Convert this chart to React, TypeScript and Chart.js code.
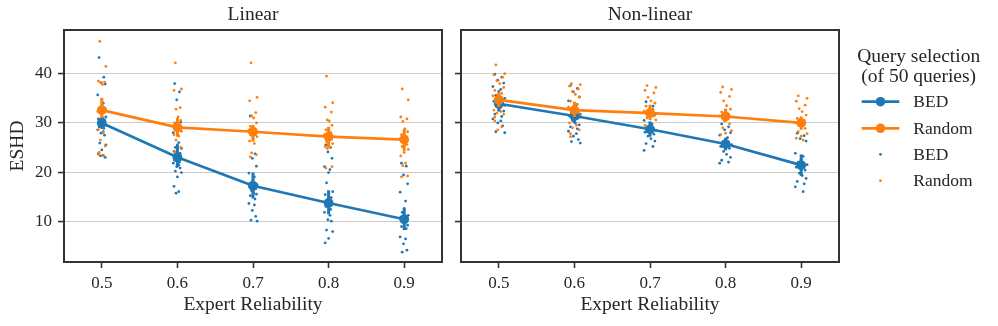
import React, { useEffect, useRef } from 'react';
import { Chart, registerables } from 'chart.js';
Chart.register(...registerables);

// ---------- data ----------
const categories = ['0.5', '0.6', '0.7', '0.8', '0.9'];
const yTicks = [10, 20, 30, 40];

// Linear panel: means and 95% CI bounds
const linBedMean = [30.0, 23.0, 17.2, 13.7, 10.4];
const linBedLow = [28.8, 21.0, 14.6, 11.4, 8.2];
const linBedHigh = [31.2, 25.5, 19.9, 16.3, 12.7];
const linRndMean = [32.6, 29.1, 28.2, 27.2, 26.6];
const linRndLow = [31.0, 27.2, 26.2, 25.0, 24.3];
const linRndHigh = [35.1, 31.0, 29.6, 29.2, 28.7];

// Non-linear panel: means and 95% CI bounds
const nlBedMean = [33.9, 31.4, 28.7, 25.7, 21.4];
const nlBedLow = [32.3, 29.9, 27.2, 24.4, 19.2];
const nlBedHigh = [35.0, 32.6, 30.3, 27.0, 23.6];
const nlRndMean = [34.7, 32.6, 32.0, 31.3, 30.0];
const nlRndLow = [33.2, 31.2, 30.6, 30.3, 28.6];
const nlRndHigh = [36.4, 34.3, 33.7, 32.9, 31.3];

// individual runs (strip points), one list per expert reliability
const linBedPts = [
  [43.3, 39.3, 38.2, 37.9, 35.7, 34.0, 33.2, 33.0, 31.2, 30.8, 30.6, 30.2, 29.9, 29.5, 29.2, 28.9, 28.6, 28.2, 27.9, 27.5, 25.9, 25.5, 24.5, 23.7, 23.4, 23.3, 23.0],
  [38.0, 36.3, 34.7, 30.2, 28.0, 26.0, 25.5, 25.0, 24.8, 24.2, 23.8, 23.3, 23.0, 22.6, 22.4, 22.0, 21.8, 21.4, 21.1, 20.8, 20.2, 19.9, 19.0, 17.1, 16.0, 15.7],
  [31.4, 23.7, 22.8, 21.2, 19.8, 19.0, 18.3, 17.8, 17.4, 17.0, 16.6, 16.2, 15.8, 15.5, 15.2, 14.5, 13.6, 13.3, 12.2, 11.0, 10.2, 10.0],
  [25.5, 25.0, 24.1, 22.8, 21.1, 20.5, 19.9, 17.8, 16.0, 15.4, 14.8, 14.2, 13.8, 13.4, 13.0, 12.4, 11.8, 11.2, 10.3, 10.0, 8.2, 7.9, 6.5, 5.6],
  [21.8, 21.2, 19.4, 17.6, 15.9, 14.1, 12.6, 11.8, 11.2, 10.8, 10.4, 10.0, 9.6, 9.2, 8.9, 8.5, 6.8, 6.4, 5.4, 4.1, 3.7],
];
const linRndPts = [
  [46.6, 41.5, 38.5, 38.3, 38.2, 37.8, 33.0, 32.8, 32.5, 32.3, 31.0, 30.8, 30.0, 29.9, 29.5, 29.0, 28.6, 28.0, 26.5, 25.3, 24.0, 23.5, 23.3],
  [42.2, 36.9, 36.6, 33.1, 32.8, 31.2, 30.5, 30.0, 29.6, 29.4, 29.1, 29.0, 28.8, 28.6, 28.3, 27.9, 27.6, 27.3, 26.5, 25.0, 24.1, 23.5],
  [42.2, 35.2, 34.5, 32.1, 31.4, 31.0, 30.0, 29.3, 28.8, 28.5, 28.2, 28.0, 27.8, 27.5, 27.2, 26.8, 26.3, 25.8, 23.9, 23.5, 23.1],
  [39.5, 34.1, 33.2, 32.2, 30.6, 30.4, 29.5, 28.6, 28.0, 27.6, 27.2, 26.9, 26.6, 26.2, 25.8, 25.5, 25.2, 25.0, 24.8, 21.1, 20.8],
  [36.9, 34.7, 31.2, 30.8, 30.3, 28.8, 28.2, 27.6, 27.2, 26.8, 26.4, 26.0, 25.6, 25.2, 24.6, 24.0, 23.3, 21.8, 21.3, 19.2, 19.0],
];
const nlBedPts = [
  [39.9, 39.3, 38.7, 38.1, 37.4, 36.8, 36.4, 35.6, 35.0, 34.4, 33.9, 33.5, 33.0, 32.4, 31.8, 31.3, 30.8, 30.4, 30.0, 29.4, 28.2, 28.0],
  [37.6, 37.0, 36.3, 35.3, 34.5, 33.7, 33.0, 32.2, 31.8, 31.4, 31.0, 30.5, 30.0, 29.6, 29.2, 28.8, 28.3, 27.8, 27.3, 26.6, 26.2, 25.9],
  [34.3, 33.4, 32.5, 31.7, 30.5, 29.8, 29.3, 28.9, 28.5, 28.1, 27.7, 27.3, 26.8, 26.3, 25.8, 25.2, 24.4],
  [29.8, 29.2, 28.6, 28.0, 27.5, 27.0, 26.5, 26.0, 25.6, 25.2, 24.8, 24.2, 23.6, 23.0, 22.4, 22.0, 21.8],
  [27.9, 27.4, 26.8, 26.3, 23.8, 23.2, 22.6, 22.0, 21.5, 21.0, 20.4, 19.8, 19.3, 18.7, 18.1, 17.6, 17.0, 16.0],
];
const nlRndPts = [
  [41.8, 40.0, 39.8, 39.3, 38.6, 38.0, 37.2, 36.6, 36.0, 35.5, 35.0, 34.6, 34.4, 34.0, 33.5, 33.0, 32.6, 32.3, 32.0, 31.8, 31.2, 30.4, 29.2, 28.6],
  [38.0, 37.8, 37.5, 36.9, 36.4, 35.8, 35.2, 34.4, 33.8, 33.2, 32.8, 32.5, 32.2, 31.8, 31.4, 30.8, 30.0, 29.5, 29.0, 28.6, 27.8, 27.2],
  [37.6, 37.2, 36.6, 36.1, 35.2, 34.5, 34.0, 33.4, 32.8, 32.4, 32.1, 31.8, 31.4, 31.0, 30.6, 30.0, 29.5, 29.0, 28.6],
  [37.3, 36.8, 36.2, 35.4, 34.5, 33.5, 32.8, 32.2, 31.8, 31.4, 31.0, 30.4, 29.8, 29.0, 28.4, 27.9, 27.6],
  [35.5, 35.0, 34.4, 33.6, 32.9, 32.3, 31.6, 30.9, 30.5, 30.1, 29.8, 29.4, 28.9, 28.2, 27.8, 27.3, 26.9, 26.5],
];

// ---------- style ----------
const FONT = "'Liberation Serif', 'Times New Roman', serif";
const TEXT = '#262626';
const BLUE = '#1f77b4';
const ORANGE = '#ff7f0e';
const FRAME = '#333333';
const GRID = '#cccccc';
const Y_MIN = 1.7;
const Y_MAX = 48.9;
// horizontal strip jitter offsets (category units)
const JITTER = [-0.04, 0.03, -0.01, 0.05, -0.06, 0.02, 0.0, -0.03, 0.06, -0.05, 0.04, -0.02, 0.01, 0.05, -0.04, 0.03, -0.06, 0.02, -0.01, 0.04, -0.03, 0.06, 0.0, -0.05, 0.02, -0.02, 0.05, -0.04];

type Panel = {
  title: string;
  left: number;
  width: number;
  padRight: number;
  yAxisWidth: number;
  showYLabels: boolean;
  bedMean: number[]; bedLow: number[]; bedHigh: number[];
  rndMean: number[]; rndLow: number[]; rndHigh: number[];
  bedPts: number[][]; rndPts: number[][];
  legend: boolean;
  jitterScale: number;
};

const panels: Panel[] = [
  {
    title: 'Linear', left: 0, width: 452, padRight: 10, yAxisWidth: 64, showYLabels: true,
    bedMean: linBedMean, bedLow: linBedLow, bedHigh: linBedHigh,
    rndMean: linRndMean, rndLow: linRndLow, rndHigh: linRndHigh,
    bedPts: linBedPts, rndPts: linRndPts, legend: false, jitterScale: 0.9,
  },
  {
    title: 'Non-linear', left: 452, width: 546, padRight: 159, yAxisWidth: 9, showYLabels: false,
    bedMean: nlBedMean, bedLow: nlBedLow, bedHigh: nlBedHigh,
    rndMean: nlRndMean, rndLow: nlRndLow, rndHigh: nlRndHigh,
    bedPts: nlBedPts, rndPts: nlRndPts, legend: true, jitterScale: 1.3,
  },
];

function stripData(pts: number[][], scale: number, shift: number) {
  const out: { x: number; y: number }[] = [];
  pts.forEach((list, ci) => {
    list.forEach((y, k) => {
      out.push({ x: ci + JITTER[(k + shift) % JITTER.length] * scale, y });
    });
  });
  return out;
}

function buildConfig(p: Panel): any {
  const decor = {
    id: 'decor_' + p.title,
    afterDatasetsDraw(chart: any) {
      const ctx = chart.ctx;
      const xs = chart.scales.x;
      const ys = chart.scales.y;
      const bars = [
        { low: p.bedLow, high: p.bedHigh, color: BLUE },
        { low: p.rndLow, high: p.rndHigh, color: ORANGE },
      ];
      ctx.save();
      ctx.lineCap = 'butt';
      bars.forEach((b) => {
        ctx.strokeStyle = b.color;
        ctx.lineWidth = 3;
        b.low.forEach((lo, i) => {
          const x = xs.getPixelForValue(i);
          ctx.beginPath();
          ctx.moveTo(x, ys.getPixelForValue(lo));
          ctx.lineTo(x, ys.getPixelForValue(b.high[i]));
          ctx.stroke();
        });
      });
      ctx.restore();
    },
    afterDraw(chart: any) {
      const ctx = chart.ctx;
      const a = chart.chartArea;
      ctx.save();
      ctx.strokeStyle = FRAME;
      ctx.lineWidth = 2;
      ctx.strokeRect(a.left, a.top, a.right - a.left, a.bottom - a.top);
      ctx.fillStyle = TEXT;
      ctx.textBaseline = 'alphabetic';
      ctx.textAlign = 'center';
      ctx.font = `19.5px ${FONT}`;
      const cx = (a.left + a.right) / 2;
      ctx.fillText(p.title, cx, 20);
      ctx.fillText('Expert Reliability', cx, 310);
      if (p.showYLabels) {
        ctx.save();
        ctx.translate(23, (a.top + a.bottom) / 2);
        ctx.rotate(-Math.PI / 2);
        ctx.fillText('ESHD', 0, 0);
        ctx.restore();
      }
      if (p.legend) {
        const tx = 466.7;
        ctx.fillText('Query selection', tx, 61.7);
        ctx.fillText('(of 50 queries)', tx, 82);
        const items = [
          { y: 101.7, color: BLUE, line: true, label: 'BED' },
          { y: 128.3, color: ORANGE, line: true, label: 'Random' },
          { y: 154.3, color: BLUE, line: false, label: 'BED' },
          { y: 180.7, color: ORANGE, line: false, label: 'Random' },
        ];
        ctx.textAlign = 'left';
        ctx.font = `17.5px ${FONT}`;
        items.forEach((it) => {
          ctx.fillStyle = it.color;
          ctx.strokeStyle = it.color;
          if (it.line) {
            ctx.lineWidth = 2.7;
            ctx.beginPath();
            ctx.moveTo(409.7, it.y);
            ctx.lineTo(447.3, it.y);
            ctx.stroke();
            ctx.beginPath();
            ctx.arc(428.5, it.y, 4.8, 0, Math.PI * 2);
            ctx.fill();
          } else {
            ctx.beginPath();
            ctx.arc(428.5, it.y, 1.4, 0, Math.PI * 2);
            ctx.fill();
          }
          ctx.fillStyle = TEXT;
          ctx.fillText(it.label, 461.3, it.y + 5.6);
        });
      }
      ctx.restore();
    },
  };

  const lineDs = (label: string, mean: number[], color: string) => ({
    type: 'line',
    label,
    data: mean.map((y, i) => ({ x: i, y })),
    borderColor: color,
    backgroundColor: color,
    borderWidth: 2.7,
    pointRadius: 4.9,
    pointHoverRadius: 4.9,
    pointBorderWidth: 0,
    pointBackgroundColor: color,
    tension: 0,
    fill: false,
  });
  const dotDs = (label: string, pts: number[][], color: string, shift: number) => ({
    type: 'scatter',
    label,
    data: stripData(pts, p.jitterScale, shift),
    backgroundColor: color,
    borderWidth: 0,
    pointRadius: 1.4,
    pointHoverRadius: 1.4,
  });

  return {
    type: 'scatter',
    data: {
      datasets: [
        lineDs('Random', p.rndMean, ORANGE),
        lineDs('BED', p.bedMean, BLUE),
        dotDs('Random runs', p.rndPts, ORANGE, 7),
        dotDs('BED runs', p.bedPts, BLUE, 0),
      ],
    },
    options: {
      responsive: false,
      animation: false,
      events: [],
      layout: { padding: { left: 0, right: p.padRight, top: 30, bottom: 0 } },
      plugins: {
        legend: { display: false },
        tooltip: { enabled: false },
        title: { display: false },
      },
      scales: {
        x: {
          type: 'linear',
          min: -0.5,
          max: 4.5,
          afterBuildTicks: (s: any) => {
            s.ticks = categories.map((_, i) => ({ value: i }));
          },
          afterFit: (s: any) => {
            s.height = 64;
          },
          ticks: {
            autoSkip: false,
            maxRotation: 0,
            padding: 5,
            color: TEXT,
            font: { family: FONT, size: 17 },
            callback: (v: any) => categories[v] ?? '',
          },
          grid: {
            drawOnChartArea: false,
            drawTicks: true,
            tickLength: 6,
            tickColor: FRAME,
            tickWidth: 1.6,
          },
          border: { display: false },
        },
        y: {
          type: 'linear',
          min: Y_MIN,
          max: Y_MAX,
          afterBuildTicks: (s: any) => {
            s.ticks = yTicks.map((v) => ({ value: v }));
          },
          afterFit: (s: any) => {
            s.width = p.yAxisWidth;
          },
          ticks: {
            padding: 6,
            color: TEXT,
            font: { family: FONT, size: 17 },
            callback: (v: any) => (p.showYLabels ? String(v) : ''),
          },
          grid: {
            drawOnChartArea: true,
            color: GRID,
            lineWidth: 1.1,
            drawTicks: true,
            tickLength: 6,
            tickColor: FRAME,
            tickWidth: 1.6,
          },
          border: { display: false },
        },
      },
    },
    plugins: [decor],
  };
}

function PanelChart({ p }: { p: Panel }) {
  const ref = useRef<HTMLCanvasElement | null>(null);
  useEffect(() => {
    if (!ref.current) return;
    const chart = new Chart(ref.current, buildConfig(p));
    return () => chart.destroy();
  }, [p]);
  return (
    <canvas
      ref={ref}
      width={p.width}
      height={326}
      style={{ position: 'absolute', left: p.left, top: 0, width: p.width, height: 326 }}
    />
  );
}

export default function App() {
  return (
    <div style={{ position: 'absolute', left: 0, top: 0, width: 998, height: 326, background: '#ffffff', overflow: 'hidden' }}>
      {panels.map((p) => (
        <PanelChart key={p.title} p={p} />
      ))}
    </div>
  );
}
